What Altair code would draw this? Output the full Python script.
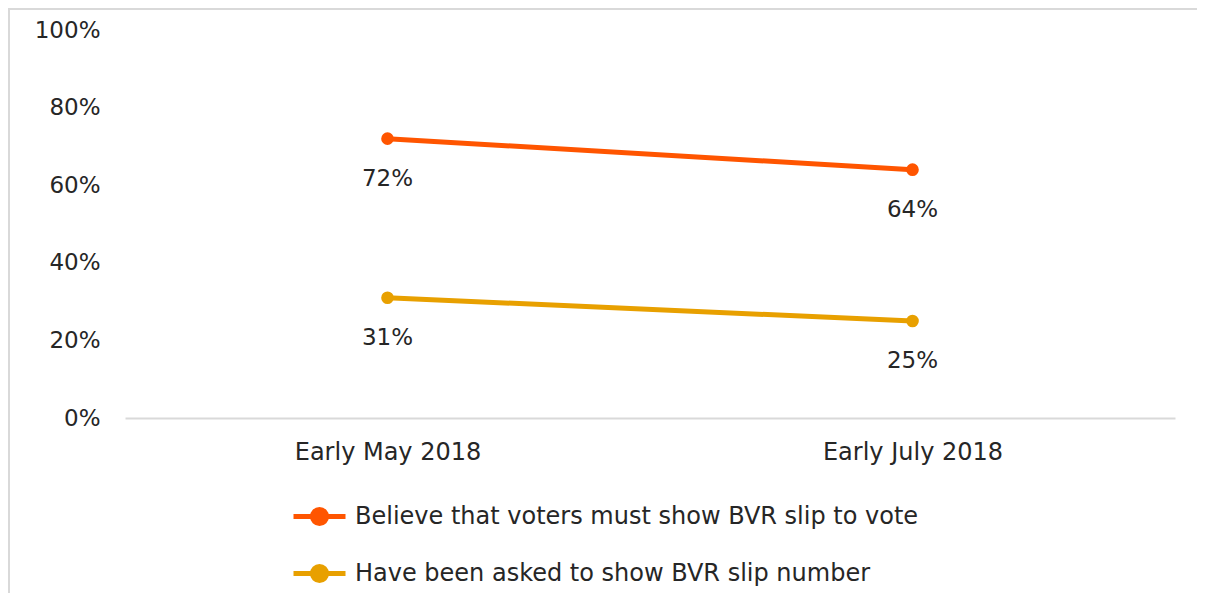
import altair as alt
import pandas as pd

periods = ["Early May 2018", "Early July 2018"]
series_names = [
    "Believe that voters must show BVR slip to vote",
    "Have been asked to show BVR slip number",
]
believe_vals = [0.72, 0.64]
asked_vals = [0.31, 0.25]
colors = ["#FF5500", "#E8A000"]

rows = []
for p, v in zip(periods, believe_vals):
    rows.append({"period": p, "series": series_names[0], "value": v})
for p, v in zip(periods, asked_vals):
    rows.append({"period": p, "series": series_names[1], "value": v})
df = pd.DataFrame(rows)

W, H = 1050, 388
FONT = "DejaVu Sans"
TXT = "#262626"

x_scale = alt.Scale(type="point", padding=0.5, domain=periods)
color_scale = alt.Scale(domain=series_names, range=colors)

x_enc = alt.X("period:N", sort=periods, scale=x_scale,
              axis=alt.Axis(title=None, labelAngle=0, ticks=False, domain=True,
                            domainColor="#d9d9d9", domainWidth=2, labelPadding=22,
                            labelFontSize=24, labelColor=TXT, labelFont=FONT,
                            labelLimit=400))
y_enc = alt.Y("value:Q", scale=alt.Scale(domain=[0, 1]),
              axis=alt.Axis(title=None, format=".0%", values=[0, 0.2, 0.4, 0.6, 0.8, 1.0],
                            ticks=False, domain=False, grid=False, labelPadding=25,
                            labelFontSize=23, labelColor=TXT, labelFont=FONT))
color_enc = alt.Color("series:N", sort=series_names, scale=color_scale,
                      legend=alt.Legend(title=None, orient="none", direction="vertical",
                                        legendX=166, legendY=458,
                                        symbolType="M-1,0L1,0M-0.27,0A0.27,0.27 0 1,0 0.27,0A0.27,0.27 0 1,0 -0.27,0",
                                        symbolSize=2704, symbolStrokeWidth=5,
                                        labelFontSize=24, labelFont=FONT, labelColor=TXT,
                                        labelOffset=7, rowPadding=11, labelLimit=900))

base = alt.Chart(df)

frame = alt.Chart(pd.DataFrame({"a": [0]})).mark_rect(
    fill=None, stroke="#d9d9d9", strokeWidth=2
).encode(x=alt.value(-116), x2=alt.value(W + 60), y=alt.value(-21), y2=alt.value(H + 250))

lines = base.mark_line(strokeWidth=5).encode(x=x_enc, y=y_enc, color=color_enc)
points = base.mark_point(filled=True, size=160, opacity=1).encode(
    x=alt.X("period:N", sort=periods, scale=x_scale),
    y="value:Q",
    color=alt.Color("series:N", legend=None, scale=color_scale))
labels = base.mark_text(dy=40, fontSize=23, font=FONT, color=TXT).encode(
    x=alt.X("period:N", sort=periods, scale=x_scale),
    y="value:Q", text=alt.Text("value:Q", format=".0%"))

chart = alt.layer(frame, lines, points, labels).properties(
    width=W, height=H,
    background="white",
    autosize=alt.AutoSizeParams(type="none"),
    padding={"left": 117, "top": 22, "right": 22, "bottom": 175},
).configure_view(strokeWidth=0, stroke=None)

chart.save("out.html", embed_options={"renderer": "svg", "actions": False})
